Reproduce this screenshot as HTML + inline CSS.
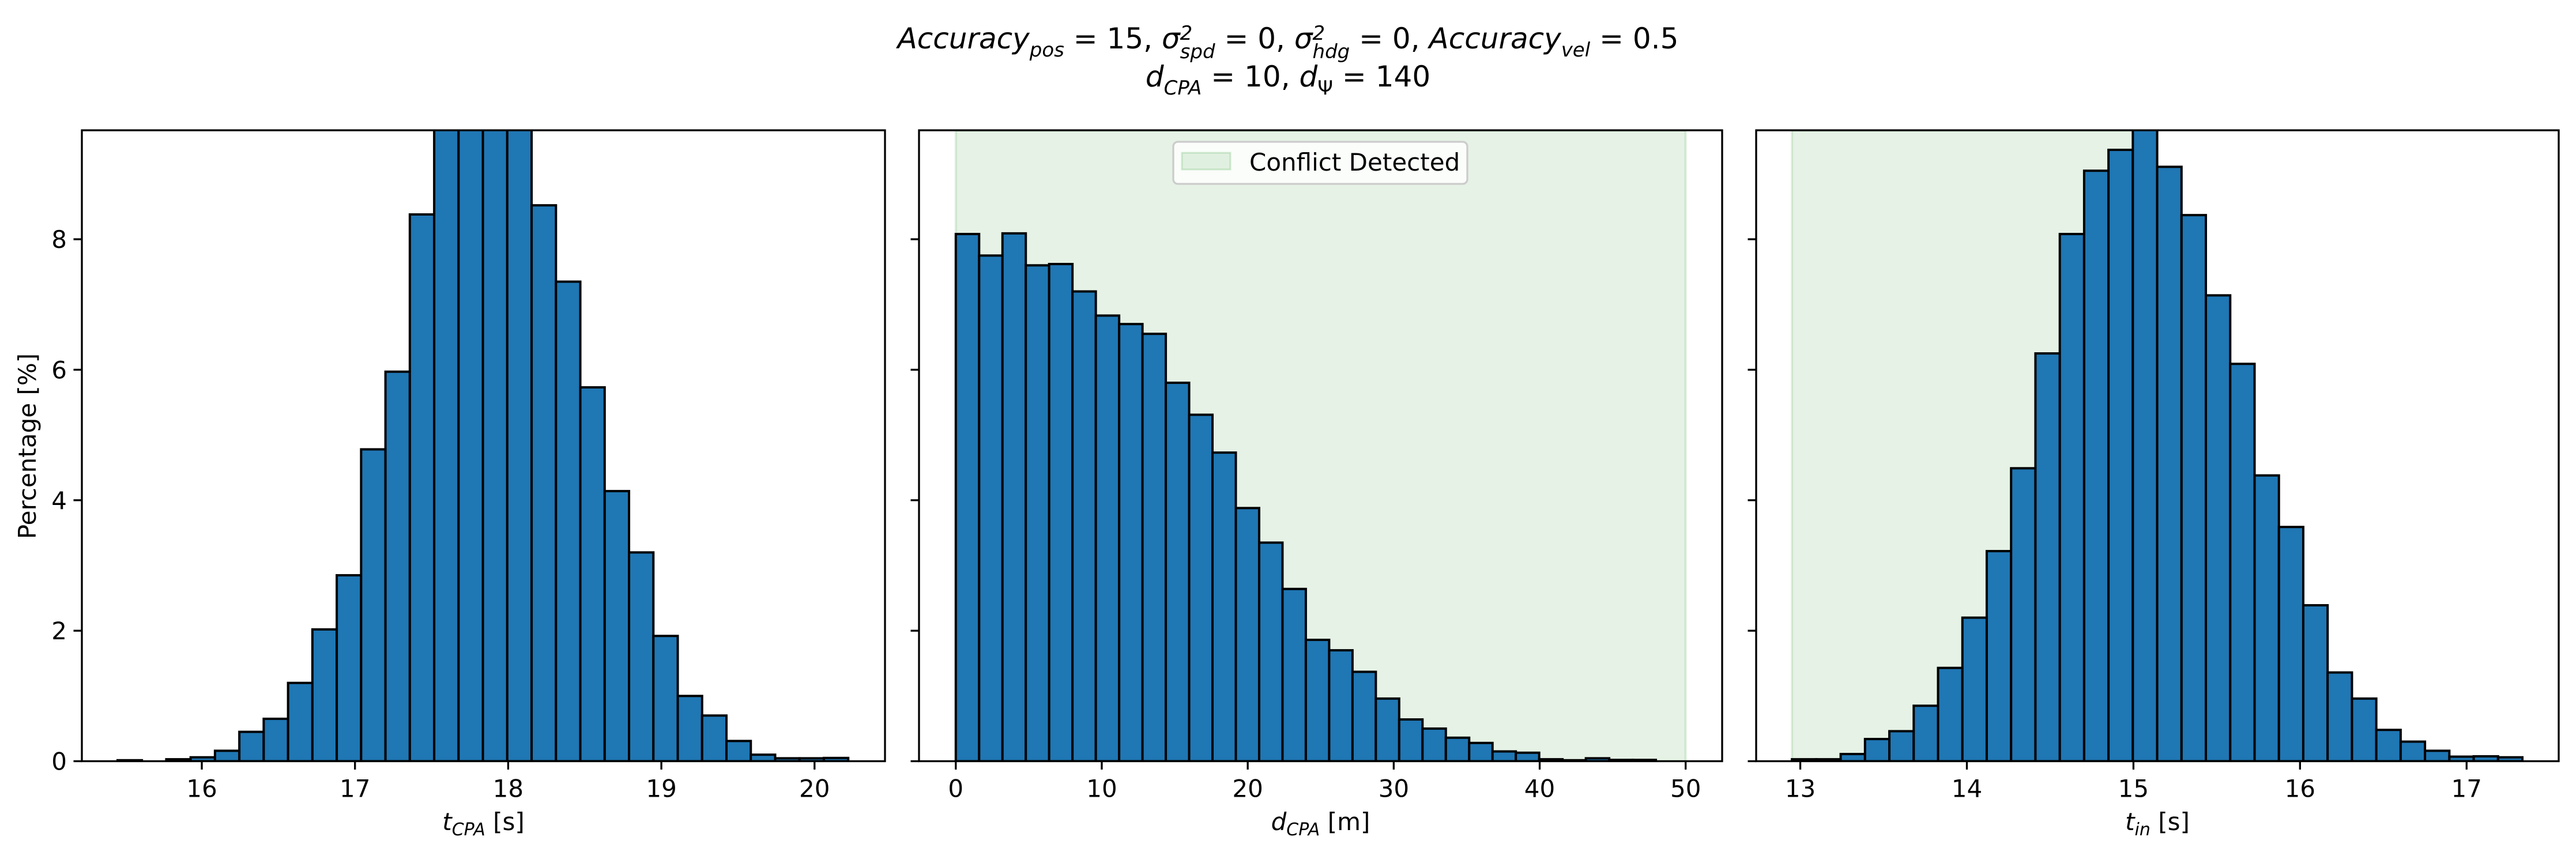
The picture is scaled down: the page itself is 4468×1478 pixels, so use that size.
<!DOCTYPE html>
<html><head><meta charset="utf-8">
<style>
html,body{margin:0;padding:0;background:#fff;}
#fig{position:relative;width:4468px;height:1478px;overflow:hidden;font-family:"DejaVu Sans","Liberation Sans",sans-serif;}
.title{position:absolute;left:0;width:4468px;text-align:center;font-size:50px;font-style:italic;color:#000;white-space:nowrap;line-height:1;}
.ss{display:inline-block;vertical-align:middle;line-height:0.95;font-size:34px;text-align:left;}
.sub{font-size:34px;position:relative;top:14px;}
.up{font-style:normal;}
</style></head>
<body>
<div id="fig">
<div class="title" style="top:38px;">Accuracy<span class="sub">pos</span><span class="up"> = 15, </span>σ<span class="ss" style="position:relative;top:4px;">2<br>spd</span><span class="up"> = 0, </span>σ<span class="ss" style="position:relative;top:4px;">2<br>hdg</span><span class="up"> = 0, </span>Accuracy<span class="sub">vel</span><span class="up"> = 0.5</span></div>
<div class="title" style="top:108px;">d<span class="sub">CPA</span><span class="up"> = 10, </span>d<span class="sub up">Ψ</span><span class="up"> = 140</span></div>
<svg id="chart" width="4468" height="1478" style="position:absolute;left:0;top:0;"></svg>
</div>
<script>
// ---- data ----
const yTicks = [0, 2, 4, 6, 8];
const yMax = 9.67;

const p1Range = [15.217, 20.46];
const p1BinStart = 15.45, p1BinEnd = 20.22;
const p1Values = [0.015,0.0,0.03,0.06,0.16,0.45,0.65,1.2,2.02,2.85,4.78,5.97,8.38,10.6,11.2,11.0,10.2,8.52,7.35,5.73,4.14,3.2,1.92,1.0,0.7,0.31,0.1,0.045,0.045,0.05];
const p1XTicks = [16,17,18,19,20];

const p2Range = [-2.52, 52.5];
const p2BinStart = 0, p2BinEnd = 47.96;
const p2Values = [8.08,7.75,8.09,7.6,7.62,7.2,6.83,6.7,6.55,5.8,5.31,4.73,3.88,3.35,2.64,1.86,1.7,1.37,0.96,0.64,0.5,0.36,0.28,0.15,0.13,0.03,0.015,0.045,0.02,0.02];
const p2XTicks = [0,10,20,30,40,50];
const p2Span = [0, 50];

const p3Range = [12.735, 17.553];
const p3BinStart = 12.95, p3BinEnd = 17.335;
const p3Values = [0.03,0.03,0.11,0.34,0.46,0.85,1.43,2.2,3.22,4.49,6.25,8.08,9.05,9.37,9.9,9.11,8.37,7.14,6.09,4.38,3.59,2.39,1.36,0.96,0.48,0.3,0.16,0.07,0.075,0.06];
const p3XTicks = [13,14,15,16,17];
const p3Span = [12.95, 15.0];

// ---- drawing ----
const NS = "http://www.w3.org/2000/svg";
const svg = document.getElementById('chart');
const TOP = 226, BOT = 1320.5;
function mk(tag, attrs, parent){
  const e = document.createElementNS(NS, tag);
  for (const k in attrs) e.setAttribute(k, attrs[k]);
  (parent||svg).appendChild(e);
  return e;
}
function yS(v){ return BOT - v*(BOT-TOP)/yMax; }

function panel(id, L, R, range, values, bs, be, xticks, span, xlabelMain, xlabelSub, xlabelUnit, showY){
  const g = mk('g', {});
  
  
  const xS = v => L + (v-range[0])/(range[1]-range[0])*(R-L);
  const clipId = id + '-clip';
  const cp = mk('clipPath', {id: clipId}, g);
  mk('rect', {x:L, y:TOP, width:R-L, height:BOT-TOP}, cp);
  const inner = mk('g', {'clip-path':'url(#'+clipId+')'}, g);
  if (span){
    const s = mk('rect', {x:xS(span[0]), y:TOP, width:xS(span[1])-xS(span[0]), height:BOT-TOP, fill:'rgba(0,128,0,0.1)', stroke:'rgba(0,128,0,0.12)', 'stroke-width':4}, inner);
    
    
  }
  const n = values.length, w = (be-bs)/n;
  values.forEach((v,i)=>{
    const x0 = xS(bs+i*w), x1 = xS(bs+(i+1)*w);
    const r = mk('rect', {x:x0, y:yS(v), width:x1-x0, height:BOT-yS(v), fill:'#1f77b4', stroke:'#000', 'stroke-width':4}, inner);
    
    
  });
  // frame
  const f = mk('rect', {x:L, y:TOP, width:R-L, height:BOT-TOP, fill:'none', stroke:'#000', 'stroke-width':3.3}, g);
  
  
  // x ticks
  xticks.forEach(t=>{
    const x = xS(t);
    mk('line', {x1:x, x2:x, y1:BOT, y2:BOT+14.5, stroke:'#000', 'stroke-width':3.3}, g);
    const tx = mk('text', {x:x, y:BOT+62, 'text-anchor':'middle', 'font-size':42, 'font-family':'DejaVu Sans, Liberation Sans, sans-serif'}, g);
    tx.textContent = t;
    
    
  });
  yTicks.forEach(t=>{
    const y = yS(t);
    mk('line', {x1:L-14.5, x2:L, y1:y, y2:y, stroke:'#000', 'stroke-width':3.3}, g);
    if (showY){
      const ty = mk('text', {x:L-26, y:y+15, 'text-anchor':'end', 'font-size':42, 'font-family':'DejaVu Sans, Liberation Sans, sans-serif'}, g);
      ty.textContent = t;
      
      
    }
  });
  const xl = mk('text', {x:(L+R)/2, y:1440, 'text-anchor':'middle', 'font-size':42, 'font-family':'DejaVu Sans, Liberation Sans, sans-serif'}, g);
  
  
  const a = mk('tspan', {'font-style':'italic'}, xl); a.textContent = xlabelMain;
  const b = mk('tspan', {'font-style':'italic', 'font-size':30, dy:9}, xl); b.textContent = xlabelSub;
  const c = mk('tspan', {dy:-9}, xl); c.textContent = ' ' + xlabelUnit;
  return xS;
}

panel('panel-tcpa', 142, 1535, p1Range, p1Values, p1BinStart, p1BinEnd, p1XTicks, null, 't', 'CPA', '[s]', true);
panel('panel-dcpa', 1594, 2987, p2Range, p2Values, p2BinStart, p2BinEnd, p2XTicks, p2Span, 'd', 'CPA', '[m]', false);
panel('panel-tin', 3046, 4438, p3Range, p3Values, p3BinStart, p3BinEnd, p3XTicks, p3Span, 't', 'in', '[s]', false);

// y label
const yl = mk('text', {x:0, y:0, transform:'translate(62,774) rotate(-90)', 'text-anchor':'middle', 'font-size':42, 'font-family':'DejaVu Sans, Liberation Sans, sans-serif'});
yl.textContent = 'Percentage [%]';



// legend
const lg = mk('g', {});


mk('rect', {x:2035, y:246, width:510, height:73, rx:8, fill:'rgba(255,255,255,0.8)', stroke:'#cccccc', 'stroke-width':3.3}, lg);
mk('rect', {x:2050, y:265, width:84, height:29, fill:'rgba(0,128,0,0.1)', stroke:'rgba(0,128,0,0.15)', 'stroke-width':3}, lg);
const lt = mk('text', {x:2167, y:296, 'font-size':42, 'font-family':'DejaVu Sans, Liberation Sans, sans-serif'}, lg);
lt.textContent = 'Conflict Detected';


</script>
</body></html>
